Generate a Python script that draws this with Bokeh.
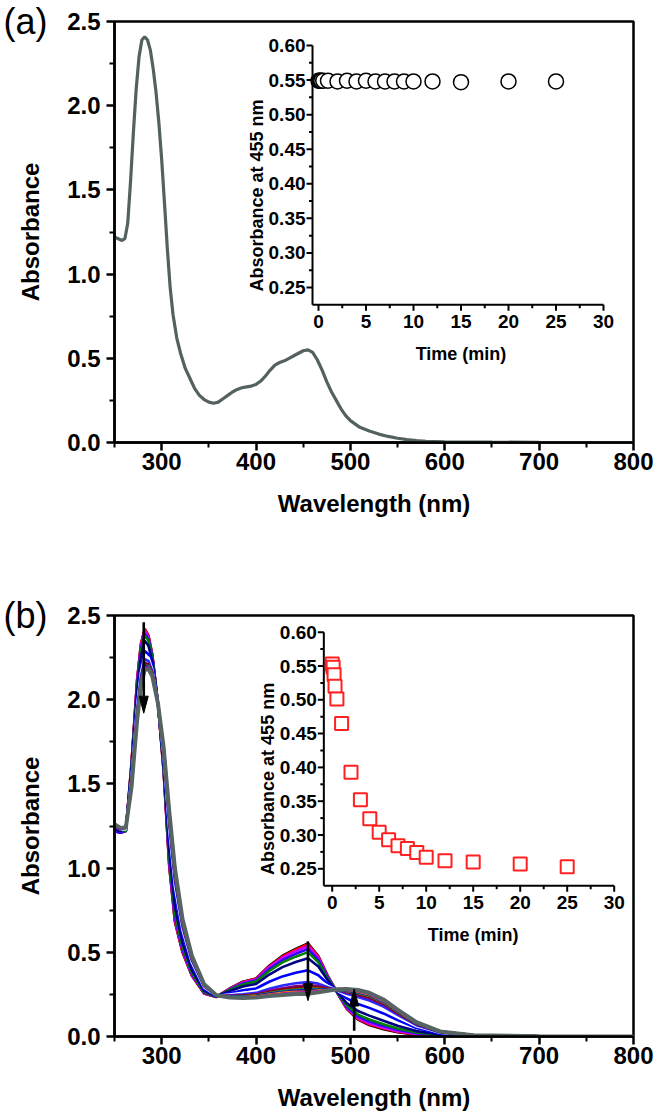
from math import pi
from bokeh.plotting import figure
from bokeh.layouts import column
from bokeh.models import Range1d, FixedTicker, NumeralTickFormatter, Title
from bokeh.core.properties import value
from bokeh.embed import file_html
from bokeh.resources import INLINE

# ---------------- data ----------------
wl_major_ticks = [300, 400, 500, 600, 700, 800]
wl_minor_ticks = [250, 350, 450, 550, 650, 750]
abs_major_ticks = [0.0, 0.5, 1.0, 1.5, 2.0, 2.5]
abs_minor_ticks = [0.25, 0.75, 1.25, 1.75, 2.25]

inset_x_ticks = [0, 5, 10, 15, 20, 25, 30]
inset_x_labels = ["0", "5", "10", "15", "20", "25", "30"]
inset_x_minor = [2.5, 7.5, 12.5, 17.5, 22.5, 27.5]
inset_y_ticks = [0.25, 0.30, 0.35, 0.40, 0.45, 0.50, 0.55, 0.60]
inset_y_labels = ["0.25", "0.30", "0.35", "0.40", "0.45", "0.50", "0.55", "0.60"]
inset_y_minor = [0.275, 0.325, 0.375, 0.425, 0.475, 0.525, 0.575]

# panel (a): spectra (all coincide)
wl_a = [250, 254, 258, 261, 264, 267, 270, 273, 276, 279, 282, 285, 288, 291, 294, 297, 300, 303, 306, 309,
        312, 316, 320, 325, 330, 335, 340, 345, 350, 355, 360, 365, 370, 375, 380, 385, 390, 395, 400, 405,
        410, 415, 420, 425, 430, 435, 440, 445, 450, 455, 460, 465, 470, 475, 480, 485, 490, 495, 500, 510,
        520, 530, 540, 550, 560, 570, 580, 600, 650, 700, 800]
abs_a = [1.22, 1.21, 1.20, 1.21, 1.30, 1.55, 1.84, 2.10, 2.29, 2.39, 2.41, 2.39, 2.33, 2.22, 2.08, 1.90, 1.68, 1.42, 1.15, 0.92,
         0.76, 0.62, 0.53, 0.44, 0.38, 0.32, 0.28, 0.255, 0.24, 0.233, 0.24, 0.26, 0.28, 0.30, 0.315, 0.325, 0.33, 0.335, 0.345, 0.365,
         0.395, 0.43, 0.46, 0.475, 0.485, 0.50, 0.515, 0.53, 0.545, 0.55, 0.535, 0.49, 0.43, 0.36, 0.30, 0.25, 0.20, 0.16, 0.13, 0.09,
         0.068, 0.05, 0.036, 0.025, 0.017, 0.011, 0.007, 0.004, 0.002, 0.001, 0.0]

# inset data
time_min = [0, 0.1, 0.2, 0.3, 0.5, 1, 2, 3, 4, 5, 6, 7, 8, 9, 10, 12, 15, 20, 25]
abs455_a = [0.549, 0.549, 0.549, 0.549, 0.549, 0.549, 0.548, 0.549, 0.548, 0.549, 0.548, 0.548, 0.548, 0.548,
            0.548, 0.548, 0.547, 0.548, 0.548]
abs455_b = [0.553, 0.548, 0.537, 0.520, 0.501, 0.465, 0.393, 0.352, 0.324, 0.304, 0.293, 0.284, 0.280, 0.274,
            0.267, 0.262, 0.260, 0.257, 0.253]

# panel (b): spectra recorded at the times above
wl_b = [250, 256, 262, 268, 274, 278, 282, 286, 290, 296, 302, 308, 314, 322, 332, 345, 358, 372, 386, 400,
        414, 428, 442, 455, 466, 476, 486, 496, 508, 520, 535, 550, 570, 595, 630, 700, 800]
spec_b_00 = [1.22, 1.21, 1.22, 1.62, 2.12, 2.33, 2.42, 2.38, 2.27, 1.98, 1.58, 1.01, 0.680, 0.500, 0.360, 0.255, 0.235, 0.285, 0.325, 0.345,
             0.420, 0.480, 0.520, 0.553, 0.478, 0.360, 0.260, 0.165, 0.100, 0.068, 0.043, 0.025, 0.011, 0.005, 0.003, 0.001, 0.0]
spec_b_01 = [1.22, 1.21, 1.22, 1.62, 2.12, 2.33, 2.42, 2.38, 2.27, 1.98, 1.58, 1.02, 0.686, 0.504, 0.362, 0.256, 0.235, 0.284, 0.323, 0.343,
             0.416, 0.475, 0.515, 0.548, 0.474, 0.358, 0.260, 0.167, 0.104, 0.072, 0.047, 0.028, 0.012, 0.006, 0.003, 0.001, 0.0]
spec_b_02 = [1.22, 1.21, 1.22, 1.61, 2.11, 2.32, 2.41, 2.37, 2.26, 1.98, 1.59, 1.03, 0.696, 0.510, 0.366, 0.258, 0.236, 0.282, 0.320, 0.339,
             0.411, 0.468, 0.507, 0.537, 0.467, 0.356, 0.261, 0.171, 0.109, 0.078, 0.052, 0.032, 0.015, 0.006, 0.003, 0.001, 0.0]
spec_b_03 = [1.22, 1.21, 1.22, 1.60, 2.09, 2.30, 2.39, 2.36, 2.26, 1.98, 1.60, 1.05, 0.715, 0.522, 0.373, 0.261, 0.236, 0.279, 0.314, 0.333,
             0.400, 0.454, 0.491, 0.520, 0.454, 0.350, 0.262, 0.178, 0.119, 0.089, 0.062, 0.040, 0.019, 0.008, 0.004, 0.001, 0.0]
spec_b_04 = [1.23, 1.22, 1.22, 1.60, 2.08, 2.29, 2.38, 2.35, 2.25, 1.98, 1.60, 1.07, 0.734, 0.534, 0.380, 0.264, 0.237, 0.276, 0.309, 0.326,
             0.389, 0.440, 0.474, 0.501, 0.441, 0.345, 0.263, 0.185, 0.130, 0.101, 0.073, 0.048, 0.024, 0.009, 0.004, 0.001, 0.0]
spec_b_05 = [1.23, 1.22, 1.23, 1.58, 2.05, 2.26, 2.35, 2.32, 2.23, 1.98, 1.62, 1.11, 0.773, 0.558, 0.395, 0.271, 0.238, 0.270, 0.297, 0.312,
             0.368, 0.412, 0.442, 0.465, 0.415, 0.334, 0.266, 0.199, 0.151, 0.124, 0.094, 0.064, 0.032, 0.012, 0.004, 0.001, 0.0]
spec_b_06 = [1.24, 1.23, 1.23, 1.55, 1.99, 2.20, 2.29, 2.27, 2.20, 1.98, 1.65, 1.18, 0.850, 0.606, 0.424, 0.284, 0.240, 0.257, 0.274, 0.285,
             0.325, 0.357, 0.378, 0.393, 0.364, 0.313, 0.271, 0.227, 0.193, 0.170, 0.137, 0.097, 0.050, 0.018, 0.006, 0.001, 0.0]
spec_b_07 = [1.25, 1.23, 1.23, 1.53, 1.96, 2.16, 2.26, 2.25, 2.18, 1.98, 1.67, 1.23, 0.894, 0.634, 0.440, 0.292, 0.242, 0.249, 0.260, 0.269,
             0.299, 0.324, 0.340, 0.352, 0.333, 0.301, 0.273, 0.243, 0.218, 0.197, 0.162, 0.115, 0.061, 0.022, 0.006, 0.001, 0.0]
spec_b_08 = [1.25, 1.23, 1.24, 1.51, 1.94, 2.14, 2.24, 2.23, 2.17, 1.98, 1.69, 1.26, 0.923, 0.652, 0.451, 0.297, 0.243, 0.245, 0.251, 0.259,
             0.283, 0.303, 0.316, 0.324, 0.314, 0.293, 0.275, 0.254, 0.234, 0.214, 0.178, 0.128, 0.067, 0.024, 0.007, 0.001, 0.0]
spec_b_09 = [1.25, 1.23, 1.24, 1.50, 1.92, 2.12, 2.22, 2.21, 2.16, 1.98, 1.70, 1.28, 0.946, 0.666, 0.460, 0.301, 0.243, 0.241, 0.244, 0.251,
             0.271, 0.287, 0.298, 0.304, 0.299, 0.287, 0.277, 0.262, 0.246, 0.227, 0.190, 0.137, 0.072, 0.026, 0.007, 0.001, 0.0]
spec_b_10 = [1.25, 1.24, 1.24, 1.50, 1.91, 2.11, 2.21, 2.21, 2.16, 1.98, 1.70, 1.30, 0.958, 0.674, 0.464, 0.303, 0.244, 0.239, 0.241, 0.247,
             0.263, 0.277, 0.287, 0.293, 0.290, 0.283, 0.277, 0.267, 0.253, 0.235, 0.197, 0.142, 0.075, 0.027, 0.007, 0.001, 0.0]
spec_b_11 = [1.26, 1.24, 1.24, 1.49, 1.90, 2.11, 2.20, 2.20, 2.15, 1.98, 1.71, 1.31, 0.968, 0.680, 0.468, 0.305, 0.244, 0.237, 0.238, 0.243,
             0.258, 0.270, 0.279, 0.284, 0.284, 0.281, 0.278, 0.270, 0.258, 0.241, 0.202, 0.147, 0.078, 0.028, 0.007, 0.001, 0.0]
spec_b_12 = [1.26, 1.24, 1.24, 1.49, 1.90, 2.10, 2.20, 2.20, 2.15, 1.98, 1.71, 1.31, 0.971, 0.682, 0.469, 0.305, 0.244, 0.237, 0.237, 0.242,
             0.256, 0.268, 0.276, 0.280, 0.281, 0.280, 0.278, 0.271, 0.260, 0.243, 0.204, 0.148, 0.078, 0.028, 0.008, 0.001, 0.0]
spec_b_13 = [1.26, 1.24, 1.24, 1.49, 1.90, 2.10, 2.20, 2.19, 2.15, 1.98, 1.71, 1.32, 0.978, 0.686, 0.472, 0.306, 0.244, 0.236, 0.235, 0.240,
             0.253, 0.263, 0.271, 0.274, 0.277, 0.278, 0.279, 0.274, 0.264, 0.247, 0.208, 0.151, 0.080, 0.028, 0.008, 0.001, 0.0]
spec_b_14 = [1.26, 1.24, 1.24, 1.49, 1.89, 2.09, 2.19, 2.19, 2.15, 1.98, 1.71, 1.32, 0.984, 0.690, 0.474, 0.307, 0.245, 0.235, 0.233, 0.238,
             0.249, 0.259, 0.265, 0.267, 0.273, 0.276, 0.279, 0.276, 0.267, 0.250, 0.211, 0.153, 0.081, 0.029, 0.008, 0.001, 0.0]
spec_b_15 = [1.26, 1.24, 1.24, 1.48, 1.89, 2.09, 2.19, 2.19, 2.14, 1.98, 1.72, 1.33, 0.990, 0.694, 0.476, 0.308, 0.245, 0.234, 0.231, 0.235,
             0.245, 0.254, 0.260, 0.262, 0.268, 0.275, 0.279, 0.278, 0.271, 0.254, 0.215, 0.156, 0.083, 0.029, 0.008, 0.001, 0.0]
spec_b_16 = [1.26, 1.24, 1.24, 1.48, 1.88, 2.09, 2.18, 2.18, 2.14, 1.98, 1.72, 1.33, 0.994, 0.696, 0.478, 0.309, 0.245, 0.233, 0.230, 0.234,
             0.244, 0.252, 0.257, 0.260, 0.266, 0.274, 0.280, 0.280, 0.272, 0.256, 0.216, 0.157, 0.084, 0.030, 0.008, 0.001, 0.0]
spec_b_17 = [1.26, 1.24, 1.24, 1.48, 1.88, 2.08, 2.18, 2.18, 2.14, 1.98, 1.72, 1.34, 0.997, 0.698, 0.479, 0.309, 0.245, 0.233, 0.229, 0.233,
             0.242, 0.249, 0.255, 0.257, 0.264, 0.273, 0.280, 0.281, 0.274, 0.258, 0.218, 0.159, 0.084, 0.030, 0.008, 0.001, 0.0]
spec_b_18 = [1.26, 1.24, 1.24, 1.48, 1.88, 2.08, 2.18, 2.18, 2.14, 1.98, 1.72, 1.34, 1.000, 0.700, 0.480, 0.310, 0.245, 0.232, 0.228, 0.232,
             0.240, 0.247, 0.252, 0.253, 0.262, 0.272, 0.280, 0.282, 0.276, 0.260, 0.220, 0.160, 0.085, 0.030, 0.008, 0.001, 0.0]

spectra_b = [spec_b_00, spec_b_01, spec_b_02, spec_b_03, spec_b_04, spec_b_05, spec_b_06, spec_b_07, spec_b_08,
             spec_b_09, spec_b_10, spec_b_11, spec_b_12, spec_b_13, spec_b_14, spec_b_15, spec_b_16, spec_b_17, spec_b_18]
colors_b = ["#000000", "#ff0000", "#cc00ff", "#3300ff", "#008000", "#000080", "#0000ff", "#ffffff", "#2a2aff",
            "#800080", "#800000", "#808000", "#008080", "#0000a0", "#ff8000", "#8000ff", "#ff0080", "#00c0c0",
            "#566463"]

# arrows in panel (b): wavelength, start absorbance, end (tip) absorbance
arrow_wl = [281, 455, 504]
arrow_from = [2.46, 0.565, 0.034]
arrow_to = [1.92, 0.213, 0.282]

# ---------------- layout constants ----------------
FONT = "Liberation Sans"
W = 655
FRAME_L, FRAME_R, FRAME_T = 114, 22, 21
FRAME_W = W - FRAME_L - FRAME_R
FRAME_H = 421
XS = FRAME_W / 550.0      # px per nm
YS = FRAME_H / 2.5        # px per absorbance unit


def main_figure(height, tag):
    p = figure(width=W, height=height, x_range=Range1d(250, 800), y_range=Range1d(0, 2.5),
               output_backend="svg", toolbar_location=None, title=None,
               min_border_left=FRAME_L, min_border_right=FRAME_R, min_border_top=FRAME_T,
               min_border_bottom=height - FRAME_T - FRAME_H)
    p.xgrid.visible = False
    p.ygrid.visible = False
    p.outline_line_color = "black"
    p.outline_line_width = 2.5
    p.outline_line_alpha = 1.0
    p.background_fill_color = "white"
    p.border_fill_color = "white"
    for ax in (p.xaxis[0], p.yaxis[0]):
        ax.axis_line_width = 2.5
        ax.major_tick_line_width = 2.5
        ax.minor_tick_line_width = 2.0
        ax.major_tick_in = 0
        ax.major_tick_out = 8
        ax.minor_tick_in = 0
        ax.minor_tick_out = 5
        ax.major_label_text_font = FONT
        ax.major_label_text_font_size = "24px"
        ax.major_label_text_font_style = "bold"
        ax.major_label_text_color = "black"
        ax.axis_label_text_font = FONT
        ax.axis_label_text_font_size = "24px"
        ax.axis_label_text_font_style = "bold"
        ax.axis_label_text_color = "black"
    p.xaxis[0].ticker = FixedTicker(ticks=wl_major_ticks, minor_ticks=wl_minor_ticks)
    p.xaxis[0].formatter = NumeralTickFormatter(format="0")
    p.yaxis[0].ticker = FixedTicker(ticks=abs_major_ticks, minor_ticks=abs_minor_ticks)
    p.yaxis[0].formatter = NumeralTickFormatter(format="0.0")
    p.xaxis[0].axis_label = "Wavelength (nm)"
    p.yaxis[0].axis_label = "Absorbance"
    p.xaxis[0].major_label_standoff = 2
    p.xaxis[0].axis_label_standoff = 17
    p.yaxis[0].major_label_standoff = 6
    p.yaxis[0].axis_label_standoff = 20
    # panel tag, placed in the top border at the far left (level with the frame's top edge)
    p.add_layout(Title(text=tag, align="left", offset=-111, vertical_align="middle",
                       text_font=FONT, text_font_size="36px", text_font_style="normal",
                       text_color="black", standoff=-42), "above")
    return p


def add_inset(p, t0_px, sx, ytop_px, sy, xlo, times, vals, marker, msize, mcolor, mlw):
    vtop = inset_y_ticks[-1]
    ybot = 0.225
    xhi = inset_x_ticks[-1]
    p.extra_x_ranges = {"ix": Range1d(-t0_px / sx, (FRAME_W - t0_px) / sx)}
    p.extra_y_ranges = {"iy": Range1d(vtop - (FRAME_H - ytop_px) / sy, vtop + ytop_px / sy)}
    kw = dict(x_range_name="ix", y_range_name="iy")
    nx, nxm = len(inset_x_ticks), len(inset_x_minor)
    ny, nym = len(inset_y_ticks), len(inset_y_minor)
    p.segment(x0=[xlo, xlo], y0=[ybot, ybot], x1=[xhi, xlo], y1=[ybot, vtop],
              line_color="black", line_width=2, **kw)
    p.segment(x0=inset_x_ticks, y0=[ybot] * nx, x1=inset_x_ticks, y1=[ybot - 6 / sy] * nx,
              line_color="black", line_width=2, **kw)
    p.segment(x0=inset_x_minor, y0=[ybot] * nxm, x1=inset_x_minor, y1=[ybot - 3.5 / sy] * nxm,
              line_color="black", line_width=2, **kw)
    p.segment(x0=[xlo] * ny, y0=inset_y_ticks, x1=[xlo - 6 / sx] * ny, y1=inset_y_ticks,
              line_color="black", line_width=2, **kw)
    p.segment(x0=[xlo] * nym, y0=inset_y_minor, x1=[xlo - 3.5 / sx] * nym, y1=inset_y_minor,
              line_color="black", line_width=2, **kw)
    tk = dict(text_font=value(FONT), text_font_style="bold", text_color="black")
    p.text(x=inset_x_ticks, y=[ybot - 17 / sy] * nx, text=inset_x_labels, text_align="center",
           text_baseline="middle", text_font_size="19px", **tk, **kw)
    p.text(x=[xlo - 7 / sx] * ny, y=inset_y_ticks, text=inset_y_labels, text_align="right",
           text_baseline="middle", text_font_size="19px", **tk, **kw)
    p.text(x=[xhi / 2], y=[ybot - 49 / sy], text=["Time (min)"], text_align="center",
           text_baseline="middle", text_font_size="18px", **tk, **kw)
    p.text(x=[xlo - 56 / sx], y=[0.383], text=["Absorbance at 455 nm"], angle=pi / 2, text_align="center",
           text_baseline="middle", text_font_size="18px", **tk, **kw)
    p.scatter(x=times, y=vals, marker=marker, size=msize, fill_color="white", line_color=mcolor,
              line_width=mlw, **kw)


# ---------------- panel (a) ----------------
pa = main_figure(594, "(a)")
pa.line(wl_a, abs_a, line_color="#536160", line_width=3.2)
add_inset(pa, t0_px=204, sx=9.5, ytop_px=24, sy=691.4, xlo=-0.63,
          times=time_min, vals=abs455_a, marker="circle", msize=15, mcolor="black", mlw=1.5)

# ---------------- panel (b) ----------------
pb = main_figure(520, "(b)")
for k, (spec, col) in enumerate(zip(spectra_b, colors_b)):
    pb.line(wl_b, spec, line_color=col, line_width=(4.0 if k == len(spectra_b) - 1 else 2.6))

# arrows: shaft + filled head (head size given in pixels)
HEAD_L, HEAD_W = 17, 9
shaft_x0, shaft_y0, shaft_x1, shaft_y1, head_xs, head_ys = [], [], [], [], [], []
for xw, y0, y1 in zip(arrow_wl, arrow_from, arrow_to):
    d = 1 if y1 > y0 else -1
    base = y1 - d * HEAD_L / YS
    shaft_x0.append(xw); shaft_y0.append(y0); shaft_x1.append(xw); shaft_y1.append(base)
    head_xs.append([xw, xw - HEAD_W / 2 / XS, xw + HEAD_W / 2 / XS])
    head_ys.append([y1, base, base])
pb.segment(x0=shaft_x0, y0=shaft_y0, x1=shaft_x1, y1=shaft_y1, line_color="black", line_width=2.6)
pb.patches(head_xs, head_ys, fill_color="black", line_color="black", line_width=1)

add_inset(pb, t0_px=217.7, sx=9.4, ytop_px=16.7, sy=676, xlo=-0.89,
          times=time_min, vals=abs455_b, marker="square", msize=13, mcolor="#ff2020", mlw=2)

layout = column(pa, pb)
open("out.html", "w").write(file_html(layout, INLINE))
